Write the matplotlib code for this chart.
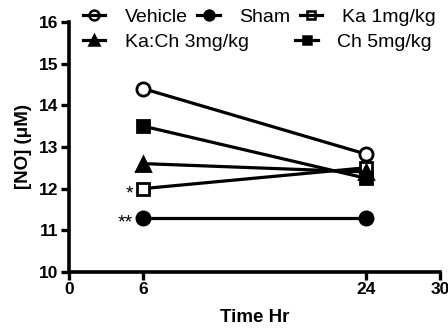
import matplotlib
matplotlib.use("Agg")
import matplotlib.pyplot as plt
from matplotlib.lines import Line2D

plt.rcParams.update({
    "font.family": ["Liberation Sans", "DejaVu Sans"],
    "axes.linewidth": 2.6,
})

hours = [6, 24]
vehicle = [14.4, 12.83]
sham = [11.3, 11.3]
ka_1 = [12.0, 12.5]
kach_3 = [12.6, 12.4]
ch_5 = [13.5, 12.25]

xticks = [0, 6, 24, 30]
yticks = [10, 11, 12, 13, 14, 15, 16]

# (label, values, marker, hollow)
series = [
    ("Vehicle", vehicle, "o", True),
    ("Sham", sham, "o", False),
    ("Ka 1mg/kg", ka_1, "s", True),
    ("Ka:Ch 3mg/kg", kach_3, "^", False),
    ("Ch 5mg/kg", ch_5, "s", False),
]

fig = plt.figure(figsize=(4.48, 3.28), dpi=100)
ax = fig.add_axes([0.154, 0.171, 0.828, 0.762])

lw = 2.3
proxies = {}
for label, vals, mk, hollow in series:
    ms = 8.5 if mk == "s" else 9.5
    ax.plot(hours, vals, "-" + mk, color="black", lw=lw, ms=ms,
            mfc="white" if hollow else "black", mew=2.0)
    proxies[label] = Line2D([], [], color="black", lw=lw, marker=mk,
                            ms=ms * 0.75, mew=1.8,
                            mfc="none" if hollow else "black", label=label)

ax.text(hours[0] - 0.8, ka_1[0] - 0.12, "*", ha="right", va="center",
        fontsize=14)
ax.text(hours[0] - 0.8, sham[0] - 0.12, "**", ha="right", va="center",
        fontsize=14)

ax.set_xlim(0, 30)
ax.set_ylim(10, 16)
ax.set_xticks(xticks)
ax.set_yticks(yticks)
ax.spines["top"].set_visible(False)
ax.spines["right"].set_visible(False)
ax.tick_params(width=2.4, length=5.5, labelsize=12.5, pad=2)
for lab in ax.get_xticklabels() + ax.get_yticklabels():
    lab.set_fontweight("bold")
ax.set_xlabel("Time Hr", fontweight="bold", fontsize=13.5)
ax.set_ylabel("[NO] (\u03bcM)", fontweight="bold", fontsize=13.5)
ax.xaxis.set_label_coords(0.5, -0.15)
ax.yaxis.set_label_coords(-0.10, 0.5)

leg_kw = dict(frameon=False, fontsize=14, handlelength=1.15,
              handletextpad=1.0, borderpad=0, borderaxespad=0,
              loc="center left")
fig.legend(handles=[proxies[k] for k in ("Vehicle", "Sham", "Ka 1mg/kg")],
           ncol=3, columnspacing=0.5,
           bbox_to_anchor=(0.185, 0.948), **leg_kw)
fig.legend(handles=[proxies[k] for k in ("Ka:Ch 3mg/kg", "Ch 5mg/kg")],
           ncol=2, columnspacing=2.4,
           bbox_to_anchor=(0.185, 0.872), **leg_kw)

fig.savefig("out.png", dpi=100)
